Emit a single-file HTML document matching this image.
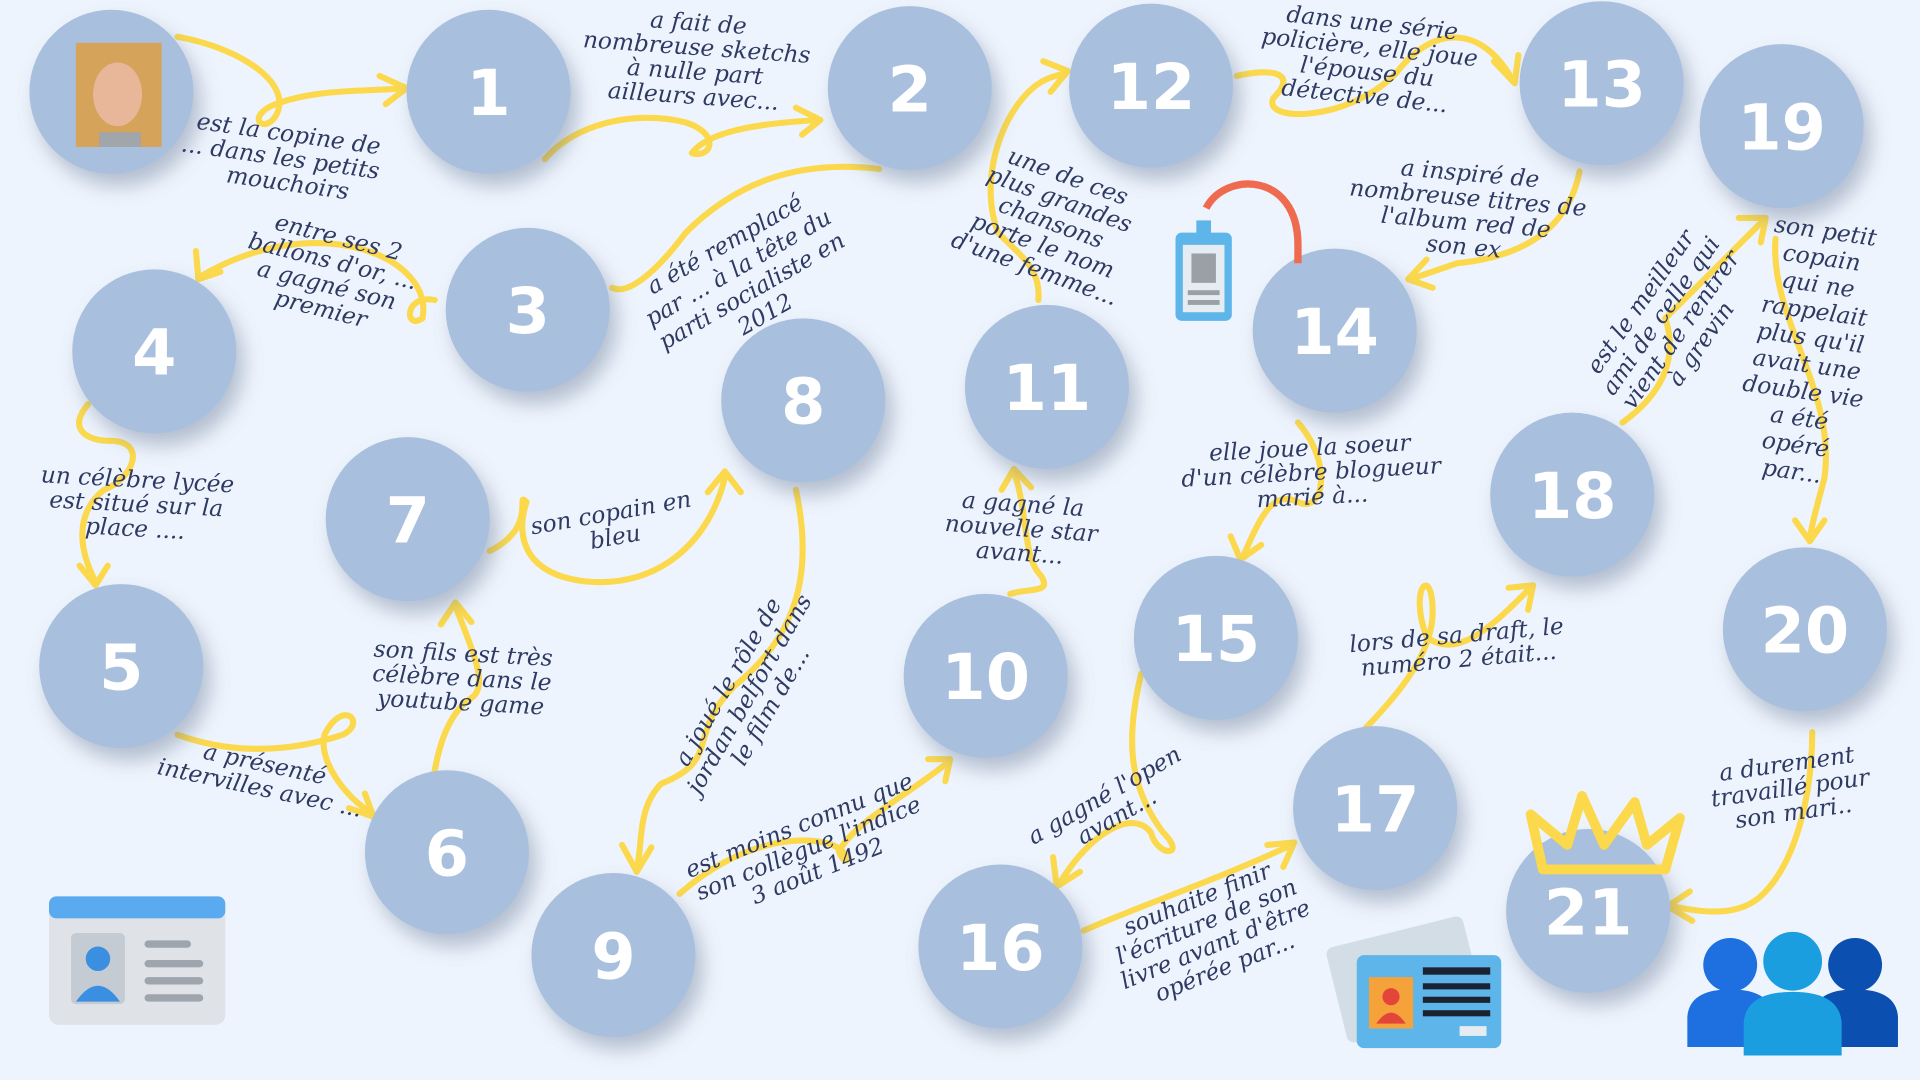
<!DOCTYPE html>
<html><head><meta charset="utf-8">
<style>
html,body{margin:0;padding:0;background:#eef4fd;}
svg{display:block;}
.note{font-family:"DejaVu Serif","Liberation Serif",serif;font-style:italic;fill:#2f3a62;font-size:19px;}
.num{font-family:"DejaVu Sans","Liberation Sans",sans-serif;font-weight:bold;fill:#fff;font-size:52px;}
.y{fill:none;stroke:#fcd94c;stroke-width:5;stroke-linecap:round;stroke-linejoin:round;}
</style></head>
<body>
<svg id="board" width="1920" height="1080" viewBox="0 0 1568 882" xmlns="http://www.w3.org/2000/svg">
<defs>
<filter id="sh" x="-30%" y="-30%" width="160%" height="170%"><feDropShadow dx="6" dy="10" stdDeviation="8" flood-color="#6b7b95" flood-opacity="0.45"/></filter>
</defs>
<rect width="1568" height="882" fill="#eef4fd"/>
<g id="paths">
<path class="y" d="M145 30 C200 40 240 70 225 95 C215 110 200 95 225 85 C260 72 300 75 330 72 M310 62 L332 72 L315 85"/>
<path class="y" d="M445 130 C470 100 520 90 560 100 C590 110 580 130 565 125 C580 105 630 100 670 98 M650 88 L670 98 L655 110"/>
<path class="y" d="M718 138 C650 130 600 150 560 190 C530 230 510 240 500 235"/>
<path class="y" d="M355 245 C330 240 330 270 345 260 C355 210 260 170 165 225 M160 205 L162 228 L180 222"/>
<path class="y" d="M72 330 C55 350 70 360 90 360 C120 360 110 390 85 400 C60 420 65 450 78 475 M65 462 L78 478 L88 462"/>
<path class="y" d="M145 600 C200 620 250 610 280 600 C300 590 280 570 265 600 C260 620 280 650 305 665 M285 660 L305 667 L298 648"/>
<path class="y" d="M355 630 C360 600 370 580 385 570 C400 560 385 530 372 495 M360 510 L372 492 L385 508"/>
<path class="y" d="M400 450 C440 430 420 400 430 410 C420 440 430 470 480 475 C540 480 580 440 592 390 M578 402 L592 385 L605 402"/>
<path class="y" d="M650 400 C665 470 650 520 600 560 C560 600 590 620 540 640 C520 660 525 690 520 710 M508 690 L520 712 L532 692"/>
<path class="y" d="M555 730 C600 690 650 680 680 690 C700 700 690 710 685 695 C700 670 740 650 775 622 M758 620 L776 620 L772 638"/>
<path class="y" d="M825 485 C840 480 860 485 850 470 C835 455 840 420 828 385 M818 400 L828 383 L842 398"/>
<path class="y" d="M848 245 C850 220 835 210 815 190 C800 150 815 100 840 75 C850 65 860 62 870 60 M852 50 L872 58 L858 75"/>
<path class="y" d="M1010 62 C1040 55 1060 60 1040 80 C1030 100 1100 100 1140 60 C1170 20 1210 20 1235 65 M1220 50 L1237 68 L1240 45"/>
<path class="y" d="M1290 140 C1280 190 1240 210 1190 215 L1152 228 M1165 212 L1150 228 L1170 235"/>
<path class="y" d="M1325 345 C1360 320 1370 290 1360 260 C1390 230 1420 200 1440 180 M1420 178 L1442 178 L1438 198"/>
<path class="y" d="M1450 195 C1445 260 1500 320 1490 390 C1485 410 1480 425 1478 440 M1466 425 L1478 442 L1490 425"/>
<path class="y" d="M1060 345 C1090 380 1080 420 1060 410 C1040 400 1030 420 1015 455 M1005 438 L1013 457 L1030 445"/>
<path class="y" d="M932 550 C920 600 920 640 950 680 C970 700 945 700 940 680 C925 660 890 680 865 722 M860 700 L863 724 L882 712"/>
<path class="y" d="M885 760 C930 740 990 720 1055 690 M1035 690 L1057 688 L1048 708"/>
<path class="y" d="M1100 610 C1130 580 1170 540 1170 500 C1170 460 1150 480 1165 520 C1190 540 1220 510 1250 480 M1232 480 L1252 478 L1248 498"/>
<path class="y" d="M1480 598 C1480 640 1470 700 1440 730 C1420 750 1390 745 1365 740 M1380 728 L1362 740 L1382 752"/>
</g>
<g id="nodes"></g>
<g id="notes">
<text class="note" transform="translate(160,105) rotate(8)"><tspan x="0">est la copine de</tspan><tspan x="-10" dy="20">... dans les petits</tspan><tspan x="30" dy="20">mouchoirs</tspan></text>
<text class="note" text-anchor="middle" transform="translate(570,25) rotate(4)"><tspan x="0">a fait de</tspan><tspan x="0" dy="20">nombreuse sketchs</tspan><tspan x="0" dy="20">à nulle part</tspan><tspan x="0" dy="20">ailleurs avec...</tspan></text>
<text class="note" text-anchor="middle" transform="translate(595,205) rotate(-30)"><tspan x="0">a été remplacé</tspan><tspan x="0" dy="22">par ... à la tête du</tspan><tspan x="0" dy="22">parti socialiste en</tspan><tspan x="0" dy="22">2012</tspan></text>
<text class="note" text-anchor="middle" transform="translate(275,200) rotate(14)"><tspan x="0">entre ses 2</tspan><tspan x="0" dy="20">ballons d'or, ...</tspan><tspan x="0" dy="20">a gagné son</tspan><tspan x="0" dy="20">premier</tspan></text>
<text class="note" text-anchor="middle" transform="translate(112,398) rotate(3)"><tspan x="0">un célèbre lycée</tspan><tspan x="0" dy="20">est situé sur la</tspan><tspan x="0" dy="20">place ....</tspan></text>
<text class="note" text-anchor="middle" transform="translate(215,630) rotate(12)"><tspan x="0">a présenté</tspan><tspan x="0" dy="20">intervilles avec ...</tspan></text>
<text class="note" text-anchor="middle" transform="translate(378,540) rotate(3)"><tspan x="0">son fils est très</tspan><tspan x="0" dy="20">célèbre dans le</tspan><tspan x="0" dy="20">youtube game</tspan></text>
<text class="note" text-anchor="middle" transform="translate(500,425) rotate(-10)"><tspan x="0">son copain en</tspan><tspan x="0" dy="20">bleu</tspan></text>
<text class="note" text-anchor="middle" transform="translate(600,560) rotate(-60)"><tspan x="0">a joué le rôle de</tspan><tspan x="0" dy="20">jordan belfort dans</tspan><tspan x="0" dy="20">le film de...</tspan></text>
<text class="note" text-anchor="middle" transform="translate(655,680) rotate(-22)"><tspan x="0">est moins connu que</tspan><tspan x="0" dy="20">son collègue l'indice</tspan><tspan x="0" dy="20">3 août 1492</tspan></text>
<text class="note" text-anchor="middle" transform="translate(835,418) rotate(4)"><tspan x="0">a gagné la</tspan><tspan x="0" dy="20">nouvelle star</tspan><tspan x="0" dy="20">avant...</tspan></text>
<text class="note" text-anchor="middle" transform="translate(870,150) rotate(20)"><tspan x="0">une de ces</tspan><tspan x="0" dy="20">plus grandes</tspan><tspan x="0" dy="20">chansons</tspan><tspan x="0" dy="20">porte le nom</tspan><tspan x="0" dy="20">d'une femme...</tspan></text>
<text class="note" text-anchor="middle" transform="translate(1120,25) rotate(6)"><tspan x="0">dans une série</tspan><tspan x="0" dy="20">policière, elle joue</tspan><tspan x="0" dy="20">l'épouse du</tspan><tspan x="0" dy="20">détective de...</tspan></text>
<text class="note" text-anchor="middle" transform="translate(1200,148) rotate(5)"><tspan x="0">a inspiré de</tspan><tspan x="0" dy="20">nombreuse titres de</tspan><tspan x="0" dy="20">l'album red de</tspan><tspan x="0" dy="20">son ex</tspan></text>
<text class="note" text-anchor="middle" transform="translate(1070,372) rotate(-3)"><tspan x="0">elle joue la soeur</tspan><tspan x="0" dy="20">d'un célèbre blogueur</tspan><tspan x="0" dy="20">marié à...</tspan></text>
<text class="note" text-anchor="middle" transform="translate(905,655) rotate(-30)"><tspan x="0">a gagné l'open</tspan><tspan x="0" dy="20">avant...</tspan></text>
<text class="note" text-anchor="middle" transform="translate(980,740) rotate(-22)"><tspan x="0">souhaite finir</tspan><tspan x="0" dy="20">l'écriture de son</tspan><tspan x="0" dy="20">livre avant d'être</tspan><tspan x="0" dy="20">opérée par...</tspan></text>
<text class="note" text-anchor="middle" transform="translate(1190,525) rotate(-5)"><tspan x="0">lors de sa draft, le</tspan><tspan x="0" dy="20">numéro 2 était...</tspan></text>
<text class="note" text-anchor="middle" transform="translate(1345,250) rotate(-55)"><tspan x="0">est le meilleur</tspan><tspan x="0" dy="20">ami de celle qui</tspan><tspan x="0" dy="20">vient de rentrer</tspan><tspan x="0" dy="20">à grevin</tspan></text>
<text class="note" text-anchor="middle" transform="translate(1490,195) rotate(8)"><tspan x="0">son petit</tspan><tspan x="0" dy="22">copain</tspan><tspan x="0" dy="22">qui ne</tspan><tspan x="0" dy="22">rappelait</tspan><tspan x="0" dy="22">plus qu'il</tspan><tspan x="0" dy="22">avait une</tspan><tspan x="0" dy="22">double vie</tspan><tspan x="0" dy="22">a été</tspan><tspan x="0" dy="22">opéré</tspan><tspan x="0" dy="22">par...</tspan></text>
<text class="note" text-anchor="middle" transform="translate(1460,630) rotate(-8)"><tspan x="0">a durement</tspan><tspan x="0" dy="20">travaillé pour</tspan><tspan x="0" dy="20">son mari..</tspan></text>
</g>
<g>
<rect x="40" y="732" width="144" height="105" rx="8" fill="#dfe3e8"/>
<rect x="40" y="732" width="144" height="18" rx="6" fill="#5aaaf0"/>
<rect x="58" y="762" width="44" height="58" rx="4" fill="#c5cbd3"/>
<circle cx="80" cy="783" r="10" fill="#3a8fe0"/>
<path d="M62 818 Q80 792 98 818 Z" fill="#3a8fe0"/>
<rect x="118" y="768" width="38" height="6" rx="3" fill="#9ea5ad"/>
<rect x="118" y="784" width="48" height="6" rx="3" fill="#9ea5ad"/>
<rect x="118" y="798" width="48" height="6" rx="3" fill="#9ea5ad"/>
<rect x="118" y="812" width="48" height="6" rx="3" fill="#9ea5ad"/>
</g>
<g>
<path d="M985 170 C1000 140 1060 140 1060 200 L1060 215" fill="none" stroke="#ef6b50" stroke-width="6"/>
<rect x="960" y="190" width="46" height="72" rx="5" fill="#5db5ea"/>
<rect x="966" y="200" width="34" height="55" fill="#e6edf2"/>
<rect x="973" y="207" width="20" height="24" fill="#9aa0a6"/>
<rect x="970" y="237" width="26" height="4" fill="#9aa0a6"/>
<rect x="970" y="245" width="26" height="4" fill="#9aa0a6"/>
<rect x="977" y="180" width="12" height="12" fill="#5db5ea"/>
</g>
<g>
<rect x="1090" y="760" width="115" height="80" rx="6" fill="#d3dde5" transform="rotate(-14 1147 800)"/>
<rect x="1108" y="780" width="118" height="76" rx="6" fill="#5db5ea"/>
<rect x="1118" y="798" width="36" height="42" fill="#f6a23a"/>
<circle cx="1136" cy="814" r="7" fill="#e3453a"/>
<path d="M1124 836 Q1136 818 1148 836Z" fill="#e3453a"/>
<rect x="1162" y="790" width="55" height="6" fill="#1b2230"/>
<rect x="1162" y="803" width="55" height="5" fill="#1b2230"/>
<rect x="1162" y="814" width="55" height="5" fill="#1b2230"/>
<rect x="1162" y="825" width="55" height="5" fill="#1b2230"/>
<rect x="1192" y="838" width="22" height="8" fill="#e6edf2"/>
</g>
<g>
<path d="M1250 665 L1280 690 L1292 650 L1310 690 L1335 655 L1345 690 L1372 668 L1360 710 L1260 710 Z" fill="none" stroke="#fcd94c" stroke-width="8" stroke-linejoin="round"/>
</g>
<g>
<circle cx="1413" cy="788" r="22" fill="#1e6fe0"/>
<path d="M1378 855 L1378 830 Q1380 808 1413 808 Q1446 808 1448 830 L1448 855Z" fill="#1e6fe0"/>
<circle cx="1515" cy="788" r="22" fill="#0b4fb0"/>
<path d="M1480 855 L1480 830 Q1482 808 1515 808 Q1548 808 1550 830 L1550 855Z" fill="#0b4fb0"/>
<circle cx="1464" cy="785" r="24" fill="#1a9ee0"/>
<path d="M1424 862 L1424 835 Q1426 810 1464 810 Q1502 810 1504 835 L1504 862Z" fill="#1a9ee0"/>
</g>
</svg>
<script>
const labels = ["","1","2","3","4","5","6","7","8","9","10","11","12","13","14","15","16","17","18","19","20","21"];
const nodeX = [91,399,743,431,126,99,365,333,656,501,805,855,940,1308,1090,993,817,1123,1284,1455,1474,1297];
const nodeY = [75,75,72,253,287,544,696,424,327,780,552,316,70,68,270,521,773,660,404,103,514,744];
const NS = "http://www.w3.org/2000/svg";
const g = document.getElementById('nodes');
labels.forEach((lab, i) => {
  const grp = document.createElementNS(NS, 'g');
  
  
  const c = document.createElementNS(NS, 'circle');
  c.setAttribute('cx', nodeX[i]); c.setAttribute('cy', nodeY[i]); c.setAttribute('r', 67);
  c.setAttribute('fill', '#a8bfdd'); c.setAttribute('filter', 'url(#sh)');
  grp.appendChild(c);
  if (i === 0) {
    const face = document.createElementNS(NS, 'g');
    
    
    face.innerHTML = '<rect x="' + (nodeX[i]-29) + '" y="' + (nodeY[i]-40) + '" width="70" height="85" fill="#d6a35a"/>' +
      '<ellipse cx="' + (nodeX[i]+5) + '" cy="' + (nodeY[i]+2) + '" rx="20" ry="26" fill="#e8b79a"/>' +
      '<rect x="' + (nodeX[i]-10) + '" y="' + (nodeY[i]+33) + '" width="34" height="12" fill="#a0a6aa"/>';
    grp.appendChild(face);
  } else {
    const t = document.createElementNS(NS, 'text');
    t.setAttribute('x', nodeX[i]); t.setAttribute('y', nodeY[i] + 19);
    t.setAttribute('text-anchor', 'middle'); t.setAttribute('class', 'num');
    t.textContent = lab;
    grp.appendChild(t);
  }
  g.appendChild(grp);
});
</script>
</body></html>
